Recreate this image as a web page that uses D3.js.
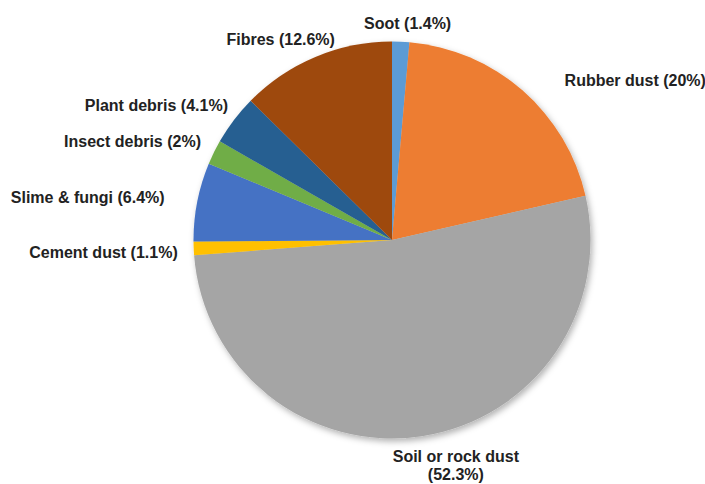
<!DOCTYPE html>
<html><head><meta charset="utf-8">
<script src="https://cdn.jsdelivr.net/npm/d3@7"></script>
<style>html,body{margin:0;padding:0;background:#fff;}svg{display:block;}</style>
</head><body>
<svg id="chart" width="705" height="484"></svg>
<script>
const categories = ["Soot", "Rubber dust", "Soil or rock dust", "Cement dust", "Slime & fungi", "Insect debris", "Plant debris", "Fibres"];
const values = [1.4, 20, 52.3, 1.1, 6.4, 2, 4.1, 12.6];
const valueLabels = ["1.4%", "20%", "52.3%", "1.1%", "6.4%", "2%", "4.1%", "12.6%"];
const colors = ["#5B9BD5", "#ED7D31", "#A5A5A5", "#FFC000", "#4472C4", "#70AD47", "#255E91", "#9E480E"];

// label layout (anchor + nudges relative to the outside point on each slice's mid-angle)
const labelAnchor = ["middle", "start", "middle", "end", "end", "end", "end", "middle"];
const labelNudge = [[6, 2], [29, 5], [31, 0], [4, 3], [-13, -1], [5, -2], [10, -2], [-27, 1.5]];

const svg = d3.select("#chart");
const cx = 392, cy = 240, r = 198.5;

const defs = svg.append("defs");
const f = defs.append("filter").attr("id", "sh").attr("x", "-20%").attr("y", "-20%").attr("width", "140%").attr("height", "140%");
f.append("feDropShadow").attr("dx", 2).attr("dy", 3).attr("stdDeviation", 3).attr("flood-color", "#000").attr("flood-opacity", 0.3);

const data = categories.map((c, i) => ({ name: c, value: values[i], label: valueLabels[i], color: colors[i], i }));
const pie = d3.pie().value(d => d.value).sort(null).startAngle(0).endAngle(2 * Math.PI);
const arcs = pie(data);
const arc = d3.arc().innerRadius(0).outerRadius(r);
const outer = d3.arc().innerRadius(r + 20).outerRadius(r + 20);

const g = svg.append("g").attr("transform", `translate(${cx},${cy})`);
g.append("g").attr("filter", "url(#sh)")
  .selectAll("path").data(arcs).join("path")
  .attr("d", arc).attr("fill", d => d.data.color);

const lg = g.append("g")
  .attr("font-family", "'Liberation Sans', Arial, sans-serif")
  .attr("font-weight", "bold").attr("font-size", "16px").attr("fill", "#222");

arcs.forEach(d => {
  const [x, y] = outer.centroid(d);
  const i = d.data.i;
  const t = lg.append("text")
    .attr("x", x + labelNudge[i][0]).attr("y", y + labelNudge[i][1])
    .attr("text-anchor", labelAnchor[i]).attr("dominant-baseline", "central");
  if (d.data.name === "Soil or rock dust") {
    t.append("tspan").attr("x", x + labelNudge[i][0]).text(d.data.name);
    t.append("tspan").attr("x", x + labelNudge[i][0]).attr("dy", 18).text(`(${d.data.label})`);
  } else {
    t.text(`${d.data.name} (${d.data.label})`);
  }
});
</script>
</body></html>
